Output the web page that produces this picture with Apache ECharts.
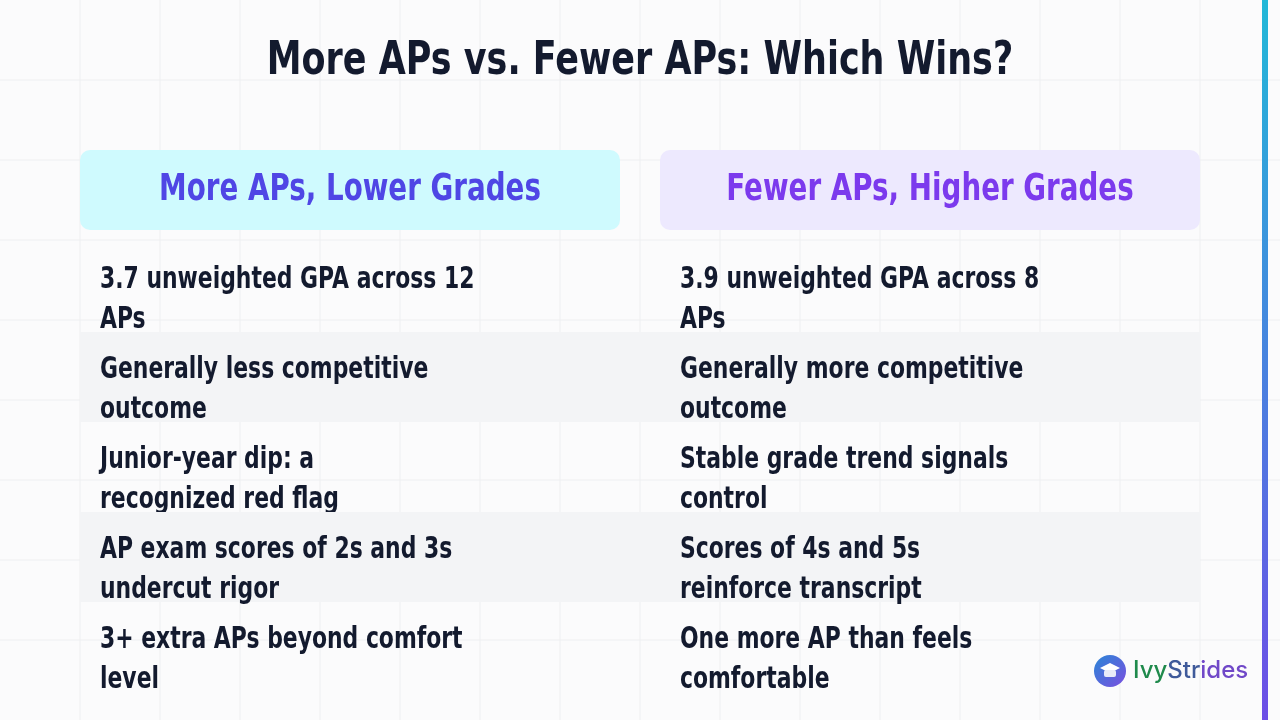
<!DOCTYPE html>
<html><head><meta charset="utf-8">
<script src="https://cdn.jsdelivr.net/npm/echarts@6/dist/echarts.min.js"></script>
<style>html,body{margin:0;padding:0;background:#fbfbfc}#c{width:1280px;height:720px}</style>
</head><body><div id="c"></div>
<script>
// data
var titleText = 'More APs vs. Fewer APs: Which Wins?';
var headers = ['More APs, Lower Grades', 'Fewer APs, Higher Grades'];
var leftItems = [
  '3.7 unweighted GPA across 12\nAPs',
  'Generally less competitive\noutcome',
  'Junior-year dip: a\nrecognized red flag',
  'AP exam scores of 2s and 3s\nundercut rigor',
  '3+ extra APs beyond comfort\nlevel'
];
var rightItems = [
  '3.9 unweighted GPA across 8\nAPs',
  'Generally more competitive\noutcome',
  'Stable grade trend signals\ncontrol',
  'Scores of 4s and 5s\nreinforce transcript',
  'One more AP than feels\ncomfortable'
];

var FONT = '"DejaVu Sans",sans-serif';
var SQ = 0.73; // horizontal squeeze to mimic condensed face
var chart = echarts.init(document.getElementById('c'));
var els = [];

// background grid
for (var gx = 80; gx < 1280; gx += 80) {
  els.push({type:'line', shape:{x1:gx,y1:0,x2:gx,y2:720}, style:{stroke:'#eeeff1',lineWidth:1}, silent:true});
}
for (var gy = 80; gy < 720; gy += 80) {
  els.push({type:'line', shape:{x1:0,y1:gy,x2:1280,y2:gy}, style:{stroke:'#eeeff1',lineWidth:1}, silent:true});
}
// right accent bar
els.push({type:'rect', shape:{x:1262,y:0,width:6,height:720},
  style:{fill:new echarts.graphic.LinearGradient(0,0,0,1,[{offset:0,color:'#22b8d8'},{offset:1,color:'#6d4ee6'}])}});

els.push({type:'text', x:640, y:62, scaleX:0.76, style:{text:titleText, fill:'#131a2e', font:'bold 46px '+FONT, align:'center', verticalAlign:'middle'}});

// headers
els.push({type:'rect', shape:{x:80,y:150,width:540,height:80,r:10}, style:{fill:'#cffafe'}});
els.push({type:'rect', shape:{x:660,y:150,width:540,height:80,r:10}, style:{fill:'#ede9fe'}});
els.push({type:'text', x:350, y:190, scaleX:0.75, style:{text:headers[0], fill:'#4f46e5', font:'bold 37px '+FONT, align:'center', verticalAlign:'middle'}});
els.push({type:'text', x:930, y:190, scaleX:0.75, style:{text:headers[1], fill:'#7c3aed', font:'bold 37px '+FONT, align:'center', verticalAlign:'middle'}});

// rows
for (var i = 0; i < leftItems.length; i++) {
  var y0 = 240 + i * 90;
  if (i % 2 === 1) {
    els.push({type:'rect', shape:{x:80,y:y0+2,width:1120,height:90}, style:{fill:'#f3f4f6'}});
  }
  els.push({type:'text', x:100, y:y0+60, scaleX:SQ, style:{text:leftItems[i], fill:'#131a2e', font:'bold 30px '+FONT, lineHeight:40, verticalAlign:'middle'}});
  els.push({type:'text', x:680, y:y0+60, scaleX:SQ, style:{text:rightItems[i], fill:'#131a2e', font:'bold 30px '+FONT, lineHeight:40, verticalAlign:'middle'}});
}

// logo
els.push({type:'circle', shape:{cx:1110,cy:671,r:16},
  style:{fill:new echarts.graphic.LinearGradient(0,0,1,1,[{offset:0,color:'#2a86d6'},{offset:1,color:'#7a4fe0'}])}});
els.push({type:'polygon', shape:{points:[[1100,668],[1110,663],[1120,668],[1110,673]]}, style:{fill:'#ffffff'}});
els.push({type:'rect', shape:{x:1104,y:670,width:12,height:7,r:2}, style:{fill:'#e8ecf8'}});
els.push({type:'text', x:1133, y:671, style:{text:'{a|Ivy}{b|Str}{c|ides}', verticalAlign:'middle',
  rich:{
    a:{fill:'#1f8a4c', font:'500 24px "Inter","Noto Sans",sans-serif'},
    b:{fill:'#3f5a9a', font:'500 24px "Inter","Noto Sans",sans-serif'},
    c:{fill:'#7048c8', font:'500 24px "Inter","Noto Sans",sans-serif'}
  }}});

chart.setOption({backgroundColor:'#fbfbfc', graphic:{elements:els}});
</script>
</body></html>
